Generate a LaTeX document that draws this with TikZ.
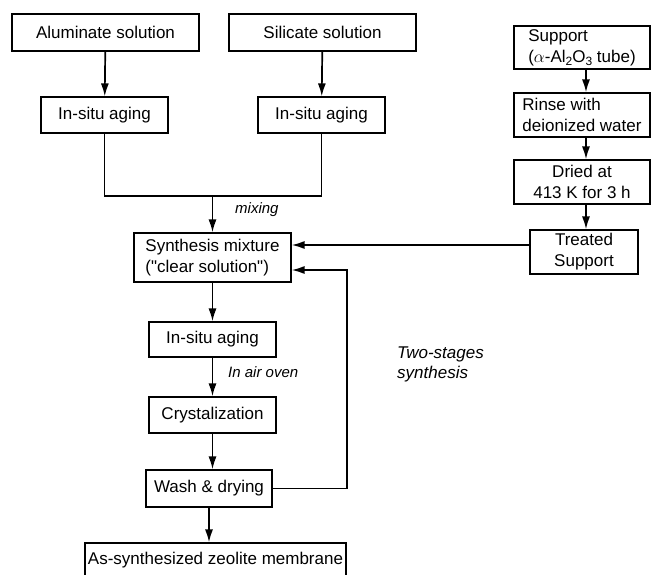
\documentclass[tikz,border=0pt]{standalone}
\usepackage{fontspec}
\setmainfont{Liberation Sans}
\usetikzlibrary{arrows.meta}

\newcommand{\lowtxt}[1]{\raisebox{-0.4ex}{\fontsize{12}{12}\selectfont #1}}

\begin{document}
\begin{tikzpicture}[
		x=1pt, y=-1pt,
		line width=1.7pt,
		every node/.style={font=\fontsize{17}{21}\selectfont},
		box/.style={draw, line width=1.1pt, inner sep=1pt},
		note/.style={font=\fontsize{15}{19}\selectfont\itshape, anchor=west},
		>={Latex[length=13pt,width=8pt]}
	]
  \useasboundingbox (0,0) rectangle (651,574);
  % left branch
  \node (alum) [box, minimum width=187pt, minimum height=37pt] at (105.5,32.5) {Aluminate solution};
  \node (sil) [box, minimum width=187pt, minimum height=37pt] at (322.5,32.5) {Silicate solution};
  \node (age_a) [box, minimum width=127pt, minimum height=36pt] at (104.5,115) {In-situ aging};
  \node (age_b) [box, minimum width=127pt, minimum height=36pt] at (321.5,115) {In-situ aging};
  \coordinate (mix) at (212.5,196);
  \node (mix_label) [note] at (231,210) {mixing};
  \node (synth) [box, align=left, minimum width=157pt, minimum height=49pt] at (212.5,257.5) {Synthesis mixture\\(\textquotedbl clear solution\textquotedbl)};
  \node (age_c) [box, minimum width=127pt, minimum height=35pt] at (212.5,339.5) {In-situ aging};
  \node (oven_label) [note] at (224,372) {In air oven};
  \node (cryst) [box, minimum width=127pt, minimum height=36pt] at (212.5,415) {Crystalization};
  \node (wash) [box, minimum width=126pt, minimum height=37pt] at (209,488.5) {Wash \& drying};
  \node (final) [box, minimum width=261pt, minimum height=35pt] at (215.5,560.5) {As-synthesized zeolite membrane};
  \coordinate (loop) at (347,270);
  \node (two_stage) [note, font=\fontsize{17}{20}\selectfont\itshape, align=left] at (393,364) {Two-stages\\synthesis};
  % support branch
  \node (support) [box, align=left, minimum width=136pt, minimum height=43pt] at (582,47.5) {Support\\($\alpha$-Al\lowtxt{2}O\lowtxt{3} tube)};
  \node (rinse) [box, align=left, minimum width=136pt, minimum height=44pt] at (582,115) {Rinse with\\deionized water};
  \node (dried) [box, align=center, minimum width=136pt, minimum height=44pt] at (582,182) {Dried at\\413 K for 3 h};
  \node (treated) [box, align=center, minimum width=108pt, minimum height=44pt] at (584,252) {Treated\\Support};

  \draw[->] (alum) -- (age_a);
  \draw[->] (sil) -- (age_b);
  \draw (age_a.south) |- (mix);
  \draw (age_b.south) |- (mix);
  \draw[->] (mix) -- (synth.north);
  \draw[->] (synth) -- (age_c);
  \draw[->] (age_c) -- (cryst);
  \draw[->] (cryst.south) -- (cryst.south |- wash.north);
  \draw[->] (wash.south) -- (wash.south |- final.north);
  \draw[->] (wash.east) -| (loop) -- (loop -| synth.east);
  \draw[->] (support.south -| 586,0) -- (rinse.north -| 586,0);
  \draw[->] (rinse.south -| 586,0) -- (dried.north -| 586,0);
  \draw[->] (dried.south -| 586,0) -- (treated.north -| 586,0);
  \draw[->] ([yshift=7pt]treated.west) -- ([yshift=7pt]treated.west -| synth.east);
\end{tikzpicture}
\end{document}
